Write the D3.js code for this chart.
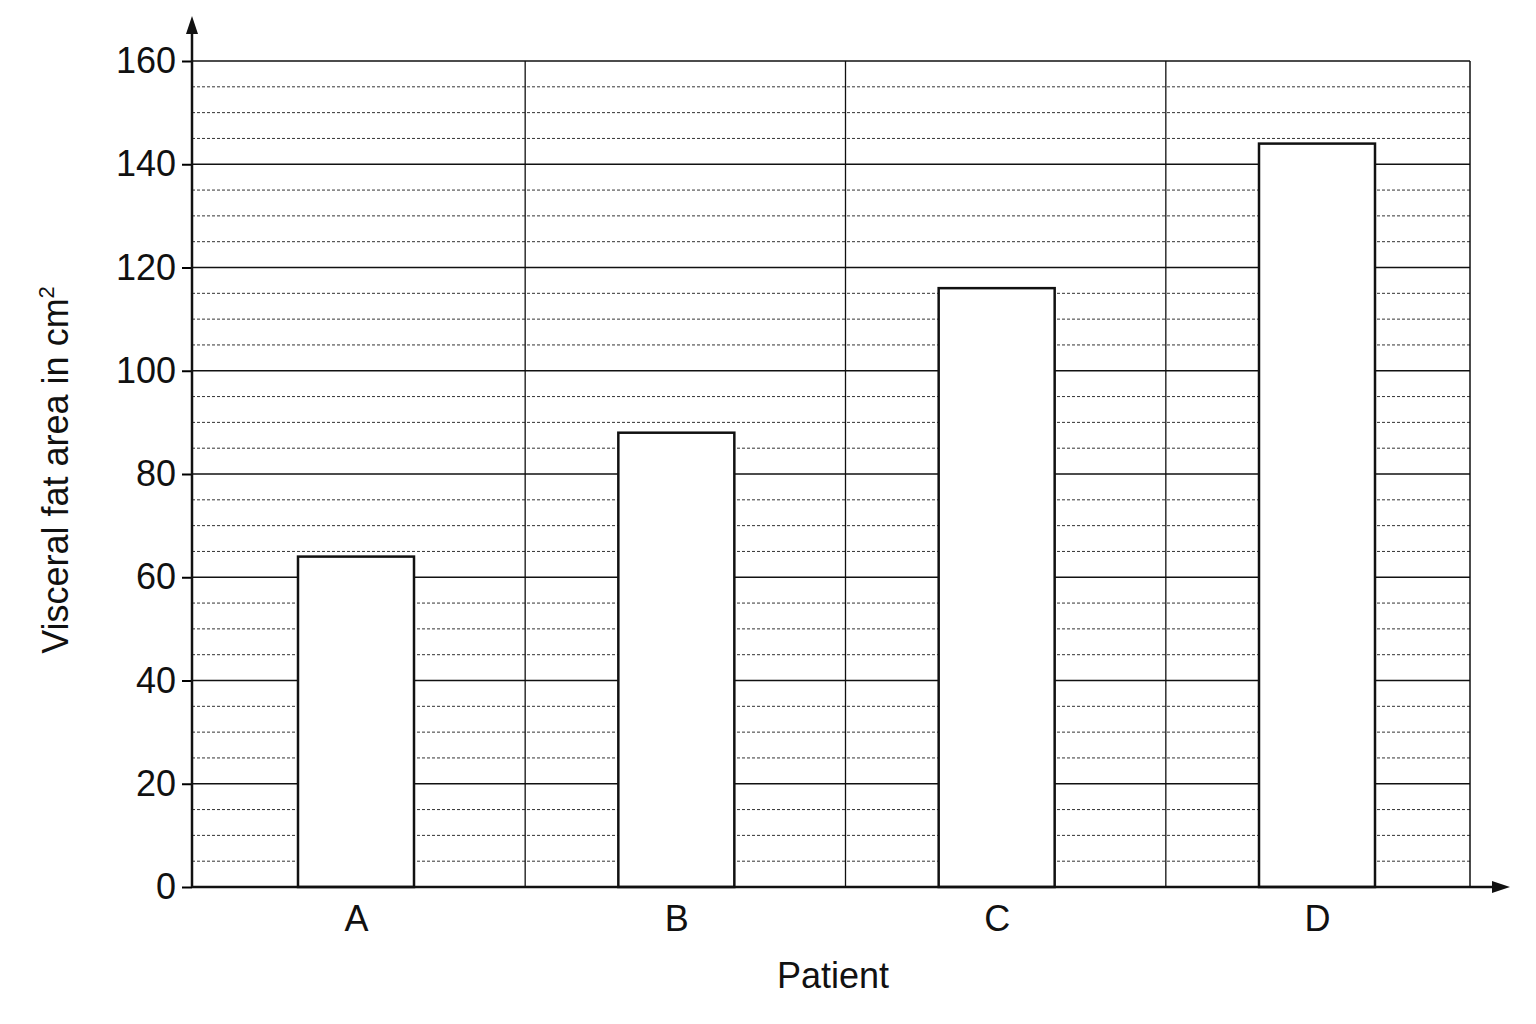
<!DOCTYPE html>
<html><head><meta charset="utf-8">
<script src="https://cdn.jsdelivr.net/npm/d3@7"></script>
<style>body{margin:0;background:#fff}text{font-family:"Liberation Sans",Arial,sans-serif;fill:#111}</style>
</head><body>
<script>
var patients = ["A", "B", "C", "D"],
  fatArea = [64, 88, 116, 144],
  yTicks = [0, 20, 40, 60, 80, 100, 120, 140, 160];

var width = 1536, height = 1024,
  plotLeft = 192, plotRight = 1470, plotTop = 61, plotBottom = 887;

var svg = d3.select("body").append("svg").attr("width", width).attr("height", height);

var y = d3.scaleLinear().domain([0, 160]).range([plotBottom, plotTop]);
var x = d3.scalePoint().domain(patients).range([356, 1317]);
var step = x.step();

// minor dashed grid every 5
svg.append("g").selectAll("line").data(d3.range(5, 160, 5).filter(d => d % 20 != 0))
  .join("line").attr("x1", plotLeft).attr("x2", plotRight)
  .attr("y1", d => y(d)).attr("y2", d => y(d))
  .attr("stroke", "#333").attr("stroke-width", 1).attr("stroke-dasharray", "3,2");

// major grid
svg.append("g").selectAll("line").data(yTicks.slice(1))
  .join("line").attr("x1", plotLeft).attr("x2", plotRight)
  .attr("y1", d => y(d)).attr("y2", d => y(d))
  .attr("stroke", "#111").attr("stroke-width", 1.3);

// vertical dividers
svg.append("g").selectAll("line").data(patients.slice(0, 3))
  .join("line").attr("x1", d => x(d) + step / 2 + 9).attr("x2", d => x(d) + step / 2 + 9)
  .attr("y1", plotTop).attr("y2", plotBottom).attr("stroke", "#111").attr("stroke-width", 1.3);
svg.append("line").attr("x1", plotRight).attr("x2", plotRight).attr("y1", plotTop).attr("y2", plotBottom)
  .attr("stroke", "#111").attr("stroke-width", 1.5);

// bars
svg.append("g").selectAll("rect").data(patients)
  .join("rect").attr("x", d => x(d) - 58).attr("width", 116)
  .attr("y", (d, i) => y(fatArea[i])).attr("height", (d, i) => plotBottom - y(fatArea[i]))
  .attr("fill", "#fff").attr("stroke", "#111").attr("stroke-width", 2.5);

// axes
var ya = svg.append("g").attr("transform", "translate(" + plotLeft + ",0)")
  .call(d3.axisLeft(y).tickValues(yTicks).tickSize(10).tickPadding(6));
ya.select(".domain").remove();
ya.selectAll("text").style("font-size", "36px");
ya.selectAll("line").attr("stroke-width", 2);
var xa = svg.append("g").attr("transform", "translate(0," + plotBottom + ")")
  .call(d3.axisBottom(x).tickSize(0).tickPadding(18));
xa.select(".domain").remove();
xa.selectAll("text").style("font-size", "36px");

svg.append("line").attr("x1", plotLeft).attr("x2", plotLeft).attr("y1", plotBottom).attr("y2", 24)
  .attr("stroke", "#111").attr("stroke-width", 2.5);
svg.append("path").attr("d", "M" + plotLeft + ",16 l-6,18 l12,0 z").attr("fill", "#111");
svg.append("line").attr("x1", plotLeft).attr("x2", 1500).attr("y1", plotBottom).attr("y2", plotBottom)
  .attr("stroke", "#111").attr("stroke-width", 2.5);
svg.append("path").attr("d", "M1510," + plotBottom + " l-18,-6 l0,12 z").attr("fill", "#111");

svg.append("text").attr("x", 833).attr("y", 988).attr("text-anchor", "middle")
  .style("font-size", "36px").text("Patient");
var yl = svg.append("text").attr("transform", "translate(68,470) rotate(-90)")
  .attr("text-anchor", "middle").style("font-size", "36px");
yl.append("tspan").text("Visceral fat area in cm");
yl.append("tspan").attr("dy", -14).style("font-size", "22px").text("2");
</script>
</body></html>
